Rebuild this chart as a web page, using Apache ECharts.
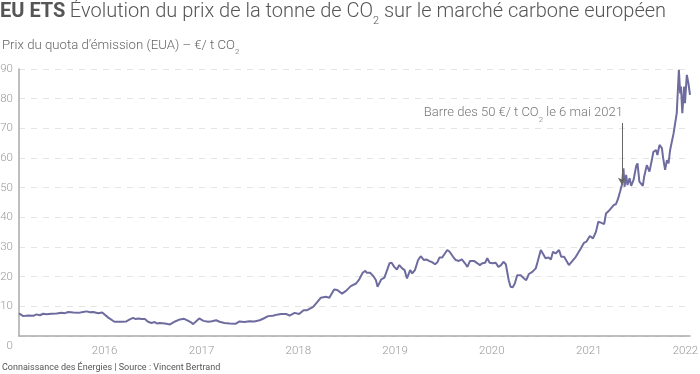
<!DOCTYPE html>
<html><head><meta charset="utf-8">
<script src="https://cdn.jsdelivr.net/npm/echarts@6/dist/echarts.min.js"></script>
<style>html,body{margin:0;padding:0;background:#fff}#c{width:700px;height:374px}</style>
</head><body><div id="c"></div>
<script>
// ---- data ----
const dates = [
'2015-02-12','2015-02-28','2015-03-18','2015-04-07','2015-04-19','2015-05-02','2015-05-14','2015-05-26','2015-06-15','2015-07-04',
'2015-07-22','2015-08-04','2015-08-17','2015-09-05','2015-09-24','2015-10-12','2015-10-25','2015-11-07','2015-11-19','2015-12-08',
'2015-12-23','2016-01-15','2016-02-07','2016-03-05','2016-03-23','2016-04-05','2016-04-18','2016-04-27','2016-05-09','2016-05-19',
'2016-06-01','2016-06-13','2016-06-26','2016-07-08','2016-07-18','2016-07-27','2016-08-16','2016-09-04','2016-09-23','2016-10-11',
'2016-10-27','2016-11-12','2016-11-22','2016-11-30','2016-12-23','2017-01-08','2017-01-26','2017-02-09','2017-02-25','2017-03-10',
'2017-03-28','2017-04-17','2017-05-09','2017-05-24','2017-06-12','2017-07-01','2017-07-19','2017-08-08','2017-08-23','2017-09-09',
'2017-09-27','2017-10-12','2017-10-28','2017-11-17','2017-11-29','2017-12-18','2018-01-04','2018-01-21','2018-02-03','2018-02-26',
'2018-03-14','2018-03-27','2018-04-15','2018-04-28','2018-05-16','2018-05-28','2018-06-15','2018-06-30','2018-07-18','2018-08-07',
'2018-08-19','2018-09-01','2018-09-11','2018-09-16','2018-09-29','2018-10-11','2018-10-21','2018-10-27','2018-11-10','2018-11-22',
'2018-11-28','2018-12-11','2018-12-19','2018-12-29','2019-01-08','2019-01-17','2019-01-28','2019-02-06','2019-02-15','2019-02-27',
'2019-03-07','2019-03-17','2019-03-29','2019-04-08','2019-04-20','2019-04-29','2019-05-09','2019-05-19','2019-06-01','2019-06-10',
'2019-06-18','2019-06-28','2019-07-08','2019-07-17','2019-07-26','2019-08-08','2019-08-18','2019-08-30','2019-09-10','2019-09-22',
'2019-10-01','2019-10-11','2019-10-26','2019-11-08','2019-11-17','2019-11-26','2019-12-07','2019-12-15','2019-12-24','2020-01-04',
'2020-01-16','2020-01-26','2020-02-05','2020-02-14','2020-02-23','2020-02-29','2020-03-05','2020-03-12','2020-03-20','2020-03-28',
'2020-04-06','2020-04-19','2020-05-02','2020-05-10','2020-05-20','2020-06-02','2020-06-15','2020-06-22','2020-07-04','2020-07-22',
'2020-08-02','2020-08-11','2020-08-19','2020-08-29','2020-09-11','2020-09-19','2020-09-30','2020-10-18','2020-10-24','2020-11-13',
'2020-12-02','2020-12-14','2020-12-23','2021-01-05','2021-01-17','2021-01-28','2021-02-06','2021-02-16','2021-02-28','2021-03-07',
'2021-03-17','2021-03-23','2021-04-05','2021-04-14','2021-04-21','2021-04-29','2021-05-06','2021-05-12','2021-05-16','2021-05-22',
'2021-05-27','2021-06-04','2021-06-10','2021-06-19','2021-06-29','2021-07-04','2021-07-11','2021-07-24','2021-07-29','2021-08-08',
'2021-08-18','2021-08-27','2021-09-02','2021-09-12','2021-09-17','2021-09-25','2021-10-04','2021-10-08','2021-10-16','2021-10-23',
'2021-10-29','2021-11-04','2021-11-17','2021-11-29','2021-12-07','2021-12-12','2021-12-15','2021-12-20','2021-12-27','2021-12-30',
'2022-01-06','2022-01-12','2022-01-18'
];
const prices = [
7.6,6.7,6.9,6.8,7.3,7.0,7.5,7.3,7.5,7.6,
7.8,7.7,8.1,7.9,7.8,8.1,8.3,8.0,8.1,7.7,
7.9,6.2,4.8,4.8,4.9,5.6,6.1,5.7,5.9,5.7,
5.7,4.8,4.4,4.7,4.2,4.4,4.2,3.9,4.9,5.6,
5.8,5.1,4.6,4.0,5.9,5.1,4.8,5.0,5.3,4.8,
4.4,4.2,4.1,4.9,4.7,5.0,4.9,5.3,5.9,6.7,
6.8,7.2,7.4,7.4,6.9,7.8,7.4,8.7,8.7,9.8,
11.5,12.9,13.2,12.9,15.7,15.5,14.3,15.2,16.8,17.7,
19.1,21.3,22.0,21.3,21.3,20.2,18.8,16.6,19.1,19.7,
20.0,24.5,24.7,23.3,22.4,23.9,22.8,22.2,19.4,22.2,
21.1,22.2,25.6,26.9,25.6,25.8,25.3,25.0,24.2,24.9,
26.5,26.5,27.8,29.0,28.4,26.7,25.6,25.3,25.8,24.5,
23.3,25.3,25.3,24.5,23.9,24.5,24.7,26.2,24.7,24.5,
24.7,23.3,23.9,25.0,24.2,23.6,18.8,16.6,16.4,17.7,
20.5,20.5,19.4,18.8,20.9,21.6,22.8,25.0,29.0,26.2,
26.5,25.8,28.4,27.8,29.0,26.7,26.7,23.9,23.6,26.7,
29.5,31.4,31.8,33.7,32.9,35.1,38.5,38.2,37.7,41.3,
42.1,41.7,44.1,44.5,46.1,48.6,51.0,56.5,50.3,54.3,
50.9,53.2,50.6,52.6,57.3,58.2,52.0,50.6,53.7,57.6,
55.4,59.3,62.1,62.7,61.0,64.4,63.3,60.4,56.0,59.3,
58.2,62.7,68.3,75.1,89.7,81.8,84.1,75.1,84.1,78.5,
88.0,85.2,81.3
];
const yMin = 0, yMax = 90, yStep = 10;
const xStart = '2015-02-12', xEnd = '2022-01-18';
const annotDate = '2021-05-06';
const annotFrom = 71.8, annotTo = 51.0, annotTextAt = 71.9;
const titleText = '{b|EU ETS} {r|Évolution du prix de la tonne de CO}{s|2}{r| sur le marché carbone européen}';
const subtitleText = '{r|Prix du quota d\u2019émission (EUA) – €/ t CO}{s|2}';
const annotText = '{r|Barre des 50 €/ t CO}{s|2}{r| le 6 mai 2021}';
const footerText = 'Connaissance des Énergies | Source : Vincent Bertrand';

const FONT = 'Roboto';
const chart = echarts.init(document.getElementById('c'), null, {renderer: 'canvas'});
chart.setOption({
  animation: false,
  backgroundColor: '#fff',
  textStyle: {fontFamily: FONT},
  title: [
    {text: titleText, left: 0, top: 2, padding: 0, textStyle: {rich: {
      b: {fontFamily: FONT, fontSize: 20, fontWeight: 'bold', color: '#555', lineHeight: 24, verticalAlign: 'top'},
      r: {fontFamily: FONT, fontSize: 20, fontWeight: 300, color: '#555', lineHeight: 24, verticalAlign: 'top'},
      s: {fontFamily: FONT, fontSize: 11, fontWeight: 300, color: '#555', lineHeight: 12, padding: [14, 0, 0, 0], verticalAlign: 'top'}
    }}},
    {text: subtitleText, left: 2, top: 39, padding: 0, textStyle: {rich: {
      r: {fontFamily: FONT, fontSize: 13.2, fontWeight: 300, color: '#666', lineHeight: 16, verticalAlign: 'top'},
      s: {fontFamily: FONT, fontSize: 8, fontWeight: 300, color: '#666', lineHeight: 8, padding: [9, 0, 0, 0], verticalAlign: 'top'}
    }}},
    {text: footerText, left: 2, top: 363, padding: 0, textStyle: {fontFamily: FONT, fontSize: 9, fontWeight: 'normal', color: '#555'}}
  ],
  grid: {left: 19, right: 10, top: 69, bottom: 38, containLabel: false, outerBoundsMode: 'none'},
  xAxis: {
    type: 'time', min: xStart, max: xEnd,
    minInterval: 365 * 24 * 3600 * 1000, maxInterval: 366 * 24 * 3600 * 1000,
    axisLine: {show: true, lineStyle: {color: '#aaa', width: 1.5}},
    axisTick: {show: false},
    splitLine: {show: false},
    axisLabel: {
      margin: 9, color: '#999', fontSize: 11.5, fontWeight: 300, fontFamily: FONT,
      showMinLabel: false,
      formatter: function (v) { const d = new Date(v); return (d.getMonth() === 0 && d.getDate() === 1) ? String(d.getFullYear()) : ''; }
    }
  },
  yAxis: {
    type: 'value', min: yMin, max: yMax, interval: yStep,
    axisLine: {show: true, lineStyle: {color: '#aaa', width: 1.5}},
    axisTick: {show: false},
    splitLine: {show: true, lineStyle: {color: '#e4e4e4', type: [6, 6], width: 1}},
    axisLabel: {
      margin: 6, color: '#999', fontSize: 11.5, fontWeight: 300, fontFamily: FONT,
      formatter: function (v) { return v === 0 ? '{z|0}' : String(v); },
      rich: {z: {padding: [20, 0, 0, 0], color: '#999', fontSize: 11.5, fontWeight: 300, fontFamily: FONT}}
    }
  },
  series: [{
    type: 'line',
    data: dates.map((d, i) => [d, prices[i]]),
    showSymbol: false, symbol: 'none',
    lineStyle: {color: '#6e6c9f', width: 2},
    itemStyle: {color: '#6e6c9f'},
    z: 3,
    markLine: {
      silent: true, animation: false,
      symbol: ['none', 'arrow'], symbolSize: [6, 7],
      lineStyle: {color: '#666', width: 1, type: 'solid'},
      label: {show: false},
      data: [[{coord: [annotDate, annotFrom]}, {coord: [annotDate, annotTo]}]]
    },
    markPoint: {
      silent: true, animation: false,
      symbol: 'circle', symbolSize: 0,
      data: [{coord: [annotDate, annotTextAt]}],
      label: {
        show: true, position: [1, 0], align: 'right', verticalAlign: 'bottom',
        formatter: annotText,
        rich: {
          r: {fontFamily: FONT, fontSize: 13, fontWeight: 300, color: '#777', lineHeight: 16, verticalAlign: 'top'},
          s: {fontFamily: FONT, fontSize: 8, fontWeight: 300, color: '#777', lineHeight: 8, padding: [9, 0, 0, 0], verticalAlign: 'top'}
        }
      }
    }
  }]
});
</script>
</body></html>
